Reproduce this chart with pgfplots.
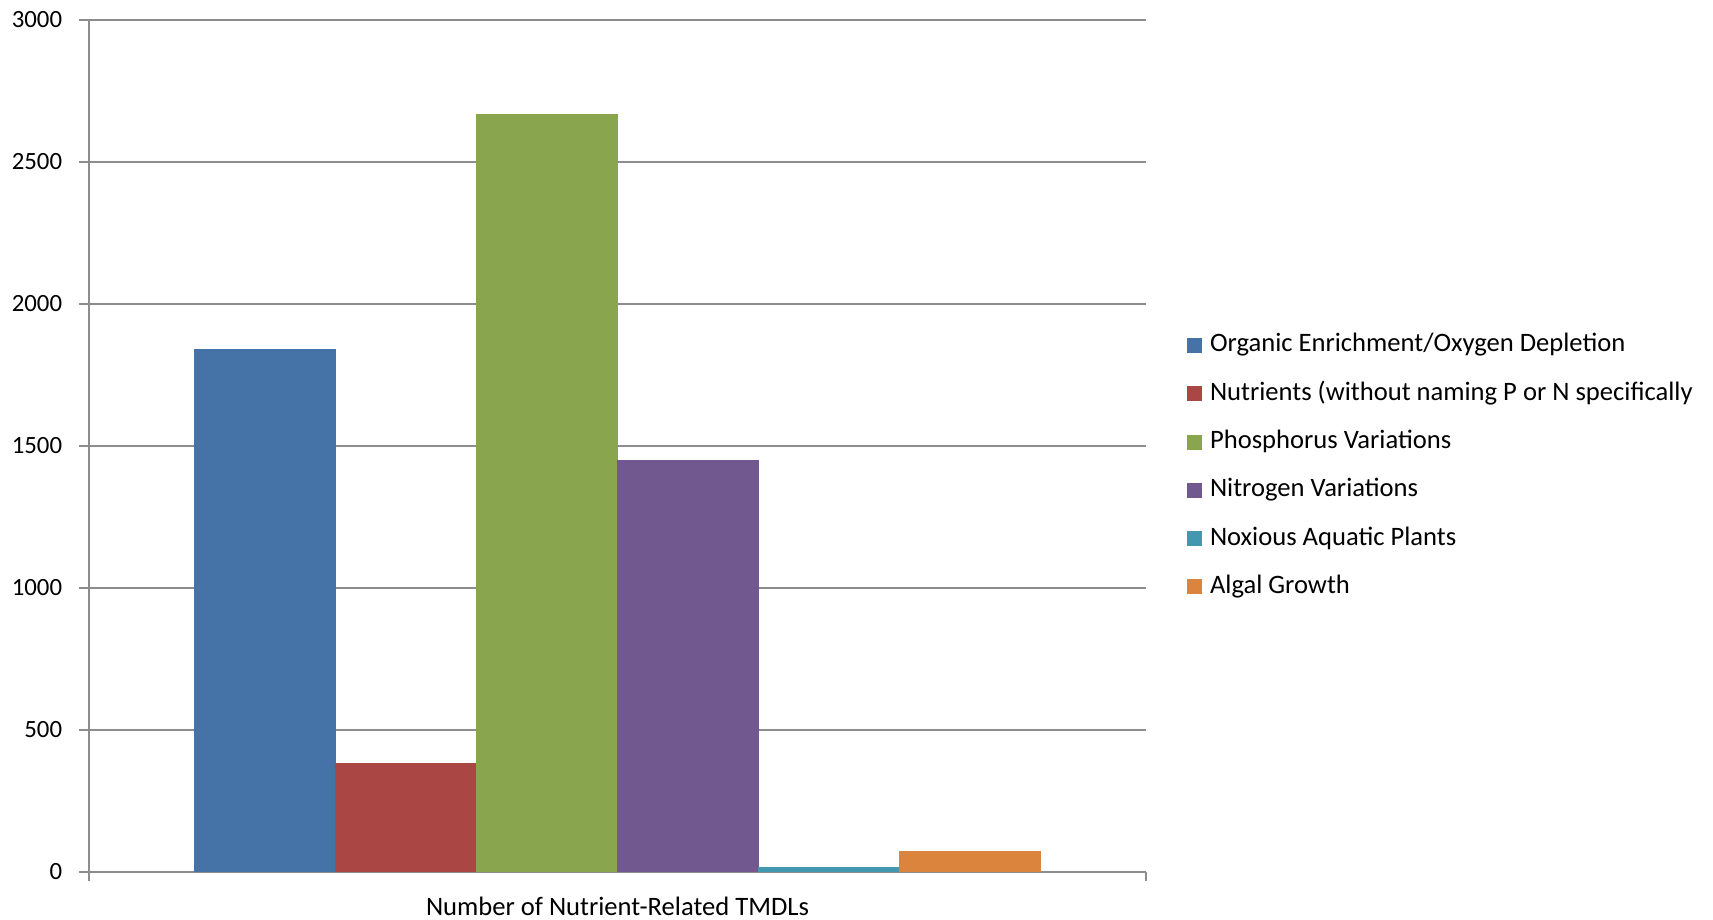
\documentclass[border=0pt]{standalone}
\usepackage{fontspec}
\setmainfont{Carlito}
\usepackage{pgfplots}
\pgfplotsset{compat=1.18}
\definecolor{c1}{HTML}{4572A7}
\definecolor{c2}{HTML}{AA4643}
\definecolor{c3}{HTML}{89A54E}
\definecolor{c4}{HTML}{71588F}
\definecolor{c5}{HTML}{4198AF}
\definecolor{c6}{HTML}{DB843D}
\definecolor{gridgray}{HTML}{8C8C8C}
\pgfplotsset{
  mybar/.style={ybar, bar width=0.1338, bar shift=0pt, draw=none, fill=#1,
    legend image code/.code={\fill[#1] (0pt,-3pt) rectangle (7.5pt,4.5pt);}},
}
\begin{document}
\begin{tikzpicture}
\useasboundingbox (-44.5pt,-24pt) rectangle (812pt,436pt);
\begin{axis}[
  at={(0pt,0pt)}, anchor=south west,
  scale only axis, width=528.5pt, height=426pt,
  xmin=-0.5, xmax=0.5, ymin=0, ymax=3000,
  axis x line=bottom, axis y line=left,
  axis line style={-, draw=gridgray, line width=1pt},
  tick align=outside,
  ytick={0,500,1000,1500,2000,2500,3000},
  ymajorgrids, grid style={draw=gridgray, line width=1pt},
  major tick length=4.75pt,
  tick style={draw=gridgray, line width=1pt},
  xtick={-0.5,0.5}, xticklabels={},
  extra x ticks={0},
  extra x tick labels={Number of Nutrient-Related TMDLs},
  extra x tick style={major tick length=0pt, grid=none,
     xticklabel style={anchor=base, inner sep=0pt, yshift=-22pt,
       font=\fontsize{13.3pt}{15pt}\selectfont}},
  yticklabel style={anchor=east, inner sep=0pt, xshift=-8.5pt},
  /pgf/number format/assume math mode=true,
  /pgf/number format/1000 sep={},
  tick label style={font=\fontsize{12.4pt}{14pt}\selectfont},
  legend style={at={(1.0388,0.6268)}, anchor=north west, draw=none, fill=none,
    inner sep=0pt, outer sep=0pt, row sep=15.15pt, column sep=4pt,
    font=\fontsize{13.3pt}{15pt}\selectfont,
    nodes={inner sep=0pt, anchor=west, text height=7pt, text depth=2pt}},
  legend cell align=left,
  clip=false,
]
\addplot[mybar=c1] coordinates {(-0.3333,1842)};
\addplot[mybar=c2] coordinates {(-0.2,384)};
\addplot[mybar=c3] coordinates {(-0.0667,2669)};
\addplot[mybar=c4] coordinates {(0.0667,1451)};
\addplot[mybar=c5] coordinates {(0.2,18)};
\addplot[mybar=c6] coordinates {(0.3333,74)};
\legend{Organic Enrichment/Oxygen Depletion,
  Nutrients (without naming P or N specifically,
  Phosphorus Variations,
  Nitrogen Variations,
  Noxious Aquatic Plants,
  Algal Growth}
\end{axis}
\end{tikzpicture}
\end{document}
